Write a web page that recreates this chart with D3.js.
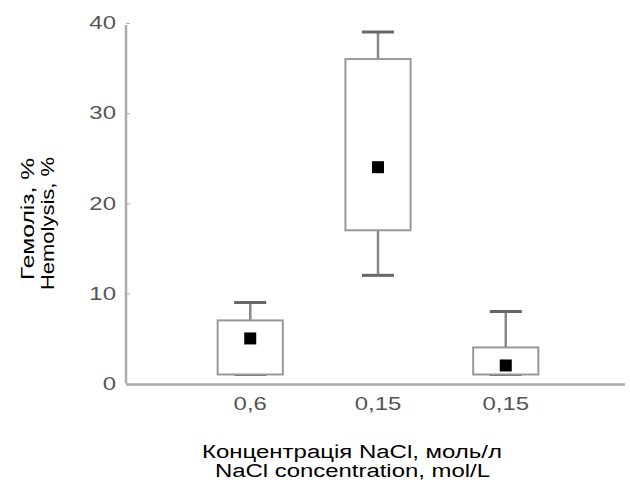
<!DOCTYPE html>
<html>
<head>
<meta charset="utf-8">
<script src="https://cdn.jsdelivr.net/npm/d3@7"></script>
<style>
  body { margin: 0; background: #fff; }
  text { font-family: "Liberation Sans", Arial, sans-serif; }
</style>
</head>
<body>
<div id="chart"></div>
<script>
// box plot data
var categories = ['0,6', '0,15', '0,15b'];
var tickLabels = ['0,6', '0,15', '0,15'];
var whiskerLow = [1, 12, 1];
var boxLow = [1, 17, 1];
var boxHigh = [7, 36, 4];
var whiskerHigh = [9, 39, 8];
var means = [5, 24, 2];
var yTicks = [0, 10, 20, 30, 40];

var width = 630, height = 483;
var margin = { left: 126, right: 5, top: 23, bottom: 99 };
var stretch = 1.33; // text in the original is widened horizontally

var svg = d3.select('#chart').append('svg')
  .attr('width', width)
  .attr('height', height);

var x = d3.scaleBand()
  .domain(categories)
  .range([187, 569])
  .paddingInner(0.49)
  .paddingOuter(0.24);

var y = d3.scaleLinear()
  .domain([0, 40])
  .range([height - margin.bottom - 0.5, margin.top]);

function widen(sel) {
  sel.each(function () {
    var len = this.getComputedTextLength();
    d3.select(this).attr('textLength', len * stretch).attr('lengthAdjust', 'spacingAndGlyphs');
  });
}

var yAxis = svg.append('g')
  .attr('transform', 'translate(' + margin.left + ',0)')
  .call(d3.axisLeft(y).tickValues(yTicks).tickSize(-4).tickPadding(10));
yAxis.select('.domain').remove();
yAxis.selectAll('.tick line').attr('stroke', '#aaa');
yAxis.selectAll('.tick text').attr('font-size', 18).attr('fill', '#555').call(widen);

// axis lines
svg.append('line')
  .attr('x1', margin.left).attr('x2', margin.left)
  .attr('y1', y(40) + 2).attr('y2', y(0))
  .attr('stroke', '#aaa').attr('stroke-width', 2.5);
svg.append('line')
  .attr('x1', margin.left).attr('x2', width - margin.right)
  .attr('y1', y(0) + 1).attr('y2', y(0) + 1)
  .attr('stroke', '#aaa').attr('stroke-width', 2.5);

var xAxis = svg.append('g')
  .attr('transform', 'translate(0,' + y(0) + ')')
  .call(d3.axisBottom(x).tickSize(0).tickPadding(14).tickFormat(function (d, i) { return tickLabels[i]; }));
xAxis.select('.domain').remove();
xAxis.selectAll('.tick text').attr('font-size', 18).attr('fill', '#555').call(widen);

var boxes = svg.selectAll('.box')
  .data(categories)
  .enter().append('g')
  .attr('class', 'box');

var capW = 32;
function cx(d) { return x(d) + x.bandwidth() / 2; }

// whiskers
boxes.append('line')
  .attr('x1', cx).attr('x2', cx)
  .attr('y1', function (d, i) { return y(whiskerHigh[i]); })
  .attr('y2', function (d, i) { return y(boxHigh[i]); })
  .attr('stroke', '#888').attr('stroke-width', 2.5);
boxes.append('line')
  .attr('x1', cx).attr('x2', cx)
  .attr('y1', function (d, i) { return y(whiskerLow[i]); })
  .attr('y2', function (d, i) { return y(boxLow[i]); })
  .attr('stroke', '#888').attr('stroke-width', 2.5);

// caps
boxes.append('line')
  .attr('x1', function (d) { return cx(d) - capW / 2; })
  .attr('x2', function (d) { return cx(d) + capW / 2; })
  .attr('y1', function (d, i) { return y(whiskerHigh[i]); })
  .attr('y2', function (d, i) { return y(whiskerHigh[i]); })
  .attr('stroke', '#666').attr('stroke-width', 3);
boxes.append('line')
  .attr('x1', function (d) { return cx(d) - capW / 2; })
  .attr('x2', function (d) { return cx(d) + capW / 2; })
  .attr('y1', function (d, i) { return y(whiskerLow[i]); })
  .attr('y2', function (d, i) { return y(whiskerLow[i]); })
  .attr('stroke', '#666').attr('stroke-width', 3);

// box rect
boxes.append('rect')
  .attr('x', function (d) { return x(d); })
  .attr('width', x.bandwidth())
  .attr('y', function (d, i) { return y(boxHigh[i]); })
  .attr('height', function (d, i) { return y(boxLow[i]) - y(boxHigh[i]); })
  .attr('fill', '#fff')
  .attr('stroke', '#999').attr('stroke-width', 2);

// mean markers
boxes.append('rect')
  .attr('x', function (d) { return cx(d) - 6; })
  .attr('y', function (d, i) { return y(means[i]) - 6; })
  .attr('width', 12).attr('height', 12)
  .attr('fill', '#000');

// axis titles
svg.append('text')
  .attr('x', 202).attr('y', 458)
  .attr('font-size', 18)
  .attr('textLength', 300).attr('lengthAdjust', 'spacingAndGlyphs')
  .text('Концентрація NaCl, моль/л');
svg.append('text')
  .attr('x', 215).attr('y', 477)
  .attr('font-size', 18)
  .attr('textLength', 275).attr('lengthAdjust', 'spacingAndGlyphs')
  .text('NaCl concentration, mol/L');

svg.append('text')
  .attr('transform', 'translate(34,280) rotate(-90)')
  .attr('font-size', 18)
  .attr('textLength', 122).attr('lengthAdjust', 'spacingAndGlyphs')
  .text('Гемоліз, %');
svg.append('text')
  .attr('transform', 'translate(54,290) rotate(-90)')
  .attr('font-size', 18)
  .attr('textLength', 133).attr('lengthAdjust', 'spacingAndGlyphs')
  .text('Hemolysis, %');
</script>
</body>
</html>
